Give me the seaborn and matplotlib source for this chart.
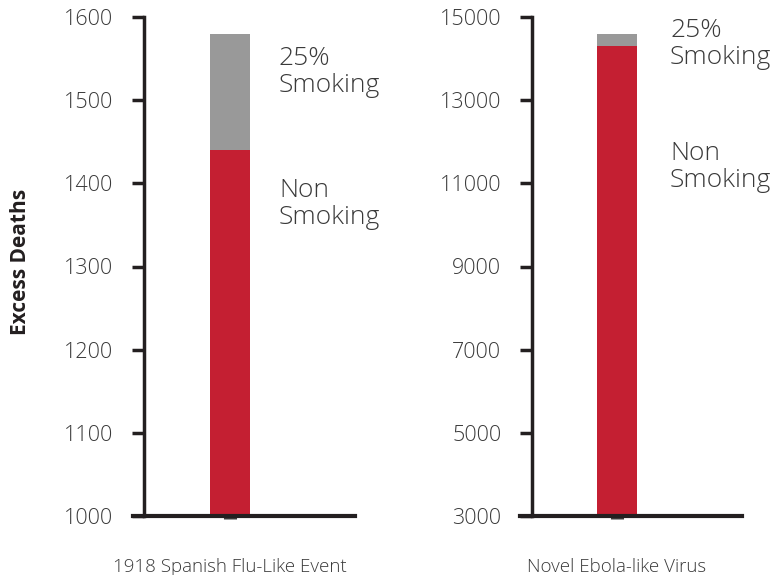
import matplotlib
matplotlib.use("Agg")
import matplotlib.pyplot as plt
import seaborn as sns
import pandas as pd

# Data
events = ["1918 Spanish Flu-Like Event", "Novel Ebola-like Virus"]
non_smoking = [1440, 14300]
total_25pct_smoking = [1580, 14600]
y_limits = [(1000, 1600), (3000, 15000)]
y_ticks = [list(range(1000, 1601, 100)), list(range(3000, 15001, 2000))]
segment_labels = ["25%\nSmoking", "Non\nSmoking"]

sns.set_theme(style="white")
plt.rcParams["font.family"] = ["Open Sans", "DejaVu Sans"]

RED = "#C41F32"
GRAY = "#999999"
INK = "#231F20"
TXT = "#3A3A3A"

fig = plt.figure(figsize=(7.73, 5.75), dpi=100)
W, H = 773, 575

def px_axes(x0, x1, ytop, ybot):
    return fig.add_axes([x0 / W, (H - ybot) / H, (x1 - x0) / W, (ybot - ytop) / H])

axes = [px_axes(133, 355, 17, 516), px_axes(520, 742, 17, 516)]
spine_pos = [-2.15, -2.125]

for i, ax in enumerate(axes):
    df_tot = pd.DataFrame({"event": [events[i]], "deaths": [total_25pct_smoking[i]]})
    df_non = pd.DataFrame({"event": [events[i]], "deaths": [non_smoking[i]]})
    sns.barplot(data=df_tot, x="event", y="deaths", color=GRAY, saturation=1,
                width=1.0, ax=ax, edgecolor="none", linewidth=0)
    sns.barplot(data=df_non, x="event", y="deaths", color=RED, saturation=1,
                width=1.0, ax=ax, edgecolor="none", linewidth=0)
    for s in ["top", "right"]:
        ax.spines[s].set_visible(False)
    ax.spines["left"].set_position(("data", spine_pos[i]))
    ax.spines["left"].set_color(INK)
    ax.spines["left"].set_linewidth(2.5)
    ax.spines["bottom"].set_color(INK)
    ax.spines["bottom"].set_linewidth(3)
    ax.patch.set_alpha(0)
    ax.set_ylim(*y_limits[i])
    ax.set_xlim(-2.425, 3.125)
    ax.set_xlabel("")
    ax.set_ylabel("")
    ax.tick_params(axis="y", left=True, length=8.6, width=2.5, color=INK, pad=13.5,
                   labelsize=15.5, labelcolor=TXT)
    ax.tick_params(axis="x", bottom=True, length=2, width=9.4, color="#3C3C3C", pad=28,
                   labelsize=13.5, labelcolor=TXT)
    ax.set_yticks(y_ticks[i])
    ax.set_yticklabels([str(t) for t in y_ticks[i]], fontsize=15.5, fontweight=300, color=TXT)
    ax.set_xticks([0])
    ax.set_xticklabels([events[i]], fontsize=13.5, fontweight=300, color=TXT)

fig.text(21 / W, (H - 262) / H, "Excess Deaths", rotation=90, ha="center", va="center",
         fontsize=15, fontweight="bold", color=INK)

label_pos = [[(279, 46), (279, 178)], [(670, 18), (670, 141)]]
for i in range(2):
    for j, lab in enumerate(segment_labels):
        x, y = label_pos[i][j]
        fig.text(x / W, (H - y) / H, lab, ha="left", va="top", fontsize=19,
                 color=TXT, fontweight=300, linespacing=1.12)

fig.savefig("out.png", dpi=100)
